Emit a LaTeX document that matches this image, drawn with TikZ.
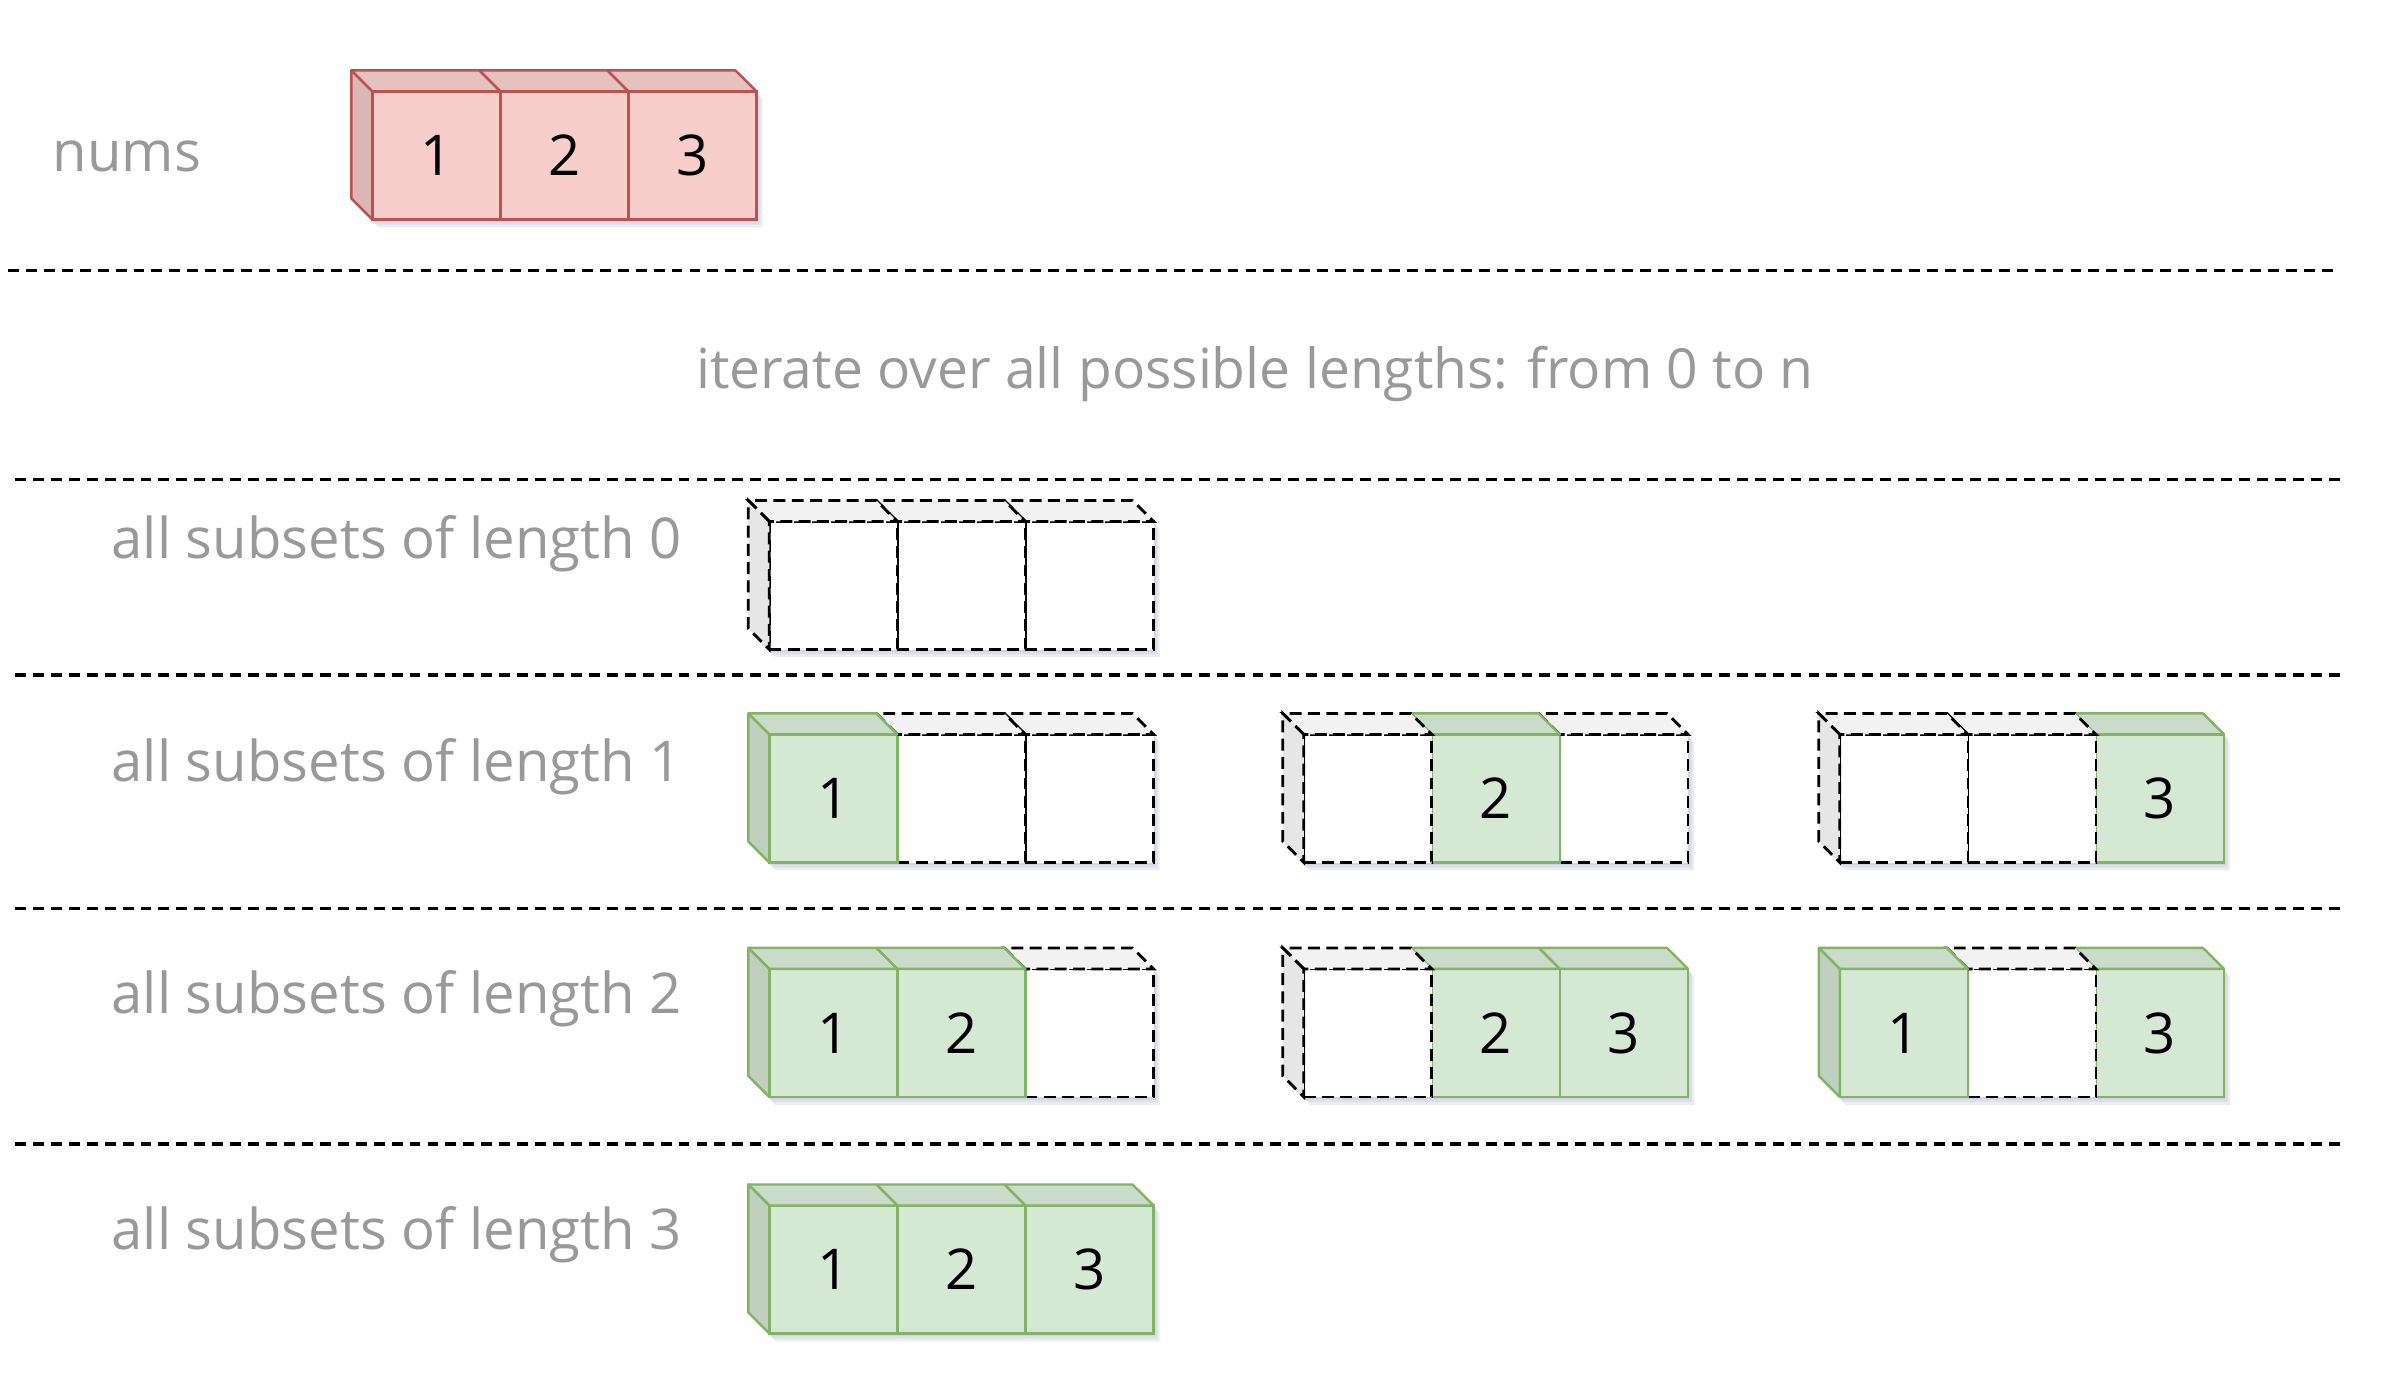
\documentclass[tikz,border=0pt]{standalone}
\usepackage{fontspec}
\setmainfont{Open Sans}
\usetikzlibrary{positioning}

\definecolor{numsfill}{HTML}{F8CECC}
\definecolor{numsline}{HTML}{B85450}
\definecolor{numstop}{RGB}{229,193,192}
\definecolor{numsside}{RGB}{218,182,181}
\definecolor{pickfill}{HTML}{D5E8D4}
\definecolor{pickline}{HTML}{82B366}
\definecolor{picktop}{RGB}{202,220,201}
\definecolor{pickside}{RGB}{192,207,190}
\definecolor{skiptop}{RGB}{242,242,242}
\definecolor{skipside}{RGB}{230,230,230}
\definecolor{labelgray}{RGB}{153,153,153}
\definecolor{shadowblue}{RGB}{170,175,200}

\begin{document}
\begin{tikzpicture}[x=0.01cm, y=-0.01cm,
  cell/.style={rectangle, minimum width=1.28cm, minimum height=1.28cm,
    inner sep=0pt, outer sep=0pt, font=\fontsize{16}{19}\selectfont},
  numcell/.style={cell, fill=numsfill, draw=numsline, line width=0.7pt},
  pickcell/.style={cell, fill=pickfill, draw=pickline, line width=0.7pt},
  skipcell/.style={cell, fill=white, draw=black, line width=0.8pt, dash pattern=on 3.4pt off 1.8pt},
  numtop/.style={fill=numstop, draw=numsline, line width=0.7pt, line join=round},
  numside/.style={fill=numsside, draw=numsline, line width=0.7pt, line join=round},
  picktop/.style={fill=picktop, draw=pickline, line width=0.7pt, line join=round},
  pickside/.style={fill=pickside, draw=pickline, line width=0.7pt, line join=round},
  skiptop/.style={fill=skiptop, draw=black, line width=0.8pt, dash pattern=on 3.4pt off 1.8pt},
  skipside/.style={fill=skipside, draw=black, line width=0.8pt, dash pattern=on 3.4pt off 1.8pt},
  rowtext/.style={anchor=base east, text=labelgray, font=\fontsize{16}{19}\selectfont},
  sepline/.style={line width=0.9pt, dash pattern=on 3.1pt off 2pt},
  boxshadow/.style={fill=shadowblue, opacity=0.22}]

\useasboundingbox (0,0) rectangle (2384,1378);

% Soft shadows under every strip
\foreach \x/\y in {372.5/91.5, 769.5/521.5, 769.5/734.5, 1304/734.5, 1840/734.5,
                   769.5/969, 1304/969, 1840/969, 769.5/1205.5}
  \foreach \d in {2,4,6}
    \fill[boxshadow] (\x-21+\d,\y-21+1.3*\d) -- ++(384,0) -- ++(21,21) -- ++(0,128)
      -- ++(-384,0) -- ++(-21,-21) -- cycle;

% Separators
\draw[sepline] (8,270.5) -- (2336,270.5);
\foreach \y in {479.5, 675, 908.5, 1144}
  \draw[sepline] (15,\y) -- (2341,\y);

% Texts
\node[rowtext, anchor=base] (numstext) at (127,171.7) {nums};
\node[rowtext, anchor=base, font=\fontsize{15.7}{19}\selectfont] (itertext) at (1255,388) {iterate over all possible lengths: from 0 to n};
\node[rowtext] (len0) at (694,558) {all subsets of length 0};
\node[rowtext] (len1) at (694,781) {all subsets of length 1};
\node[rowtext] (len2) at (694,1013) {all subsets of length 2};
\node[rowtext] (len3) at (694,1249) {all subsets of length 3};

% The input array
\node[numcell] (N3) at (692.5,155.5) {3};
\node[numcell, left=0pt of N3] (N2) {2};
\node[numcell, left=0pt of N2] (N1) {1};
\foreach \c in {N3,N2,N1}
  \filldraw[numtop] (\c.north west) -- ++(-21,-21) -- ++(128,0) -- (\c.north east) -- cycle;
\filldraw[numside] (N1.north west) -- ++(-21,-21) -- ++(0,128) -- (N1.south west) -- cycle;

% Length 0
\node[skipcell] (Z3) at (1089.5,585.5) {};
\node[skipcell, left=0pt of Z3] (Z2) {};
\node[skipcell, left=0pt of Z2] (Z1) {};
\foreach \c in {Z3,Z2,Z1}
  \filldraw[skiptop] (\c.north west) -- ++(-21,-21) -- ++(128,0) -- (\c.north east) -- cycle;
\filldraw[skipside] (Z1.north west) -- ++(-21,-21) -- ++(0,128) -- (Z1.south west) -- cycle;

% Length 1
\node[skipcell] (A3) at (1089.5,798.5) {};
\node[skipcell, left=0pt of A3] (A2) {};
\node[pickcell, left=0pt of A2] (A1) {1};
\foreach \c/\s in {A3/skiptop, A2/skiptop, A1/picktop}
  \filldraw[\s] (\c.north west) -- ++(-21,-21) -- ++(128,0) -- (\c.north east) -- cycle;
\filldraw[pickside] (A1.north west) -- ++(-21,-21) -- ++(0,128) -- (A1.south west) -- cycle;

\node[skipcell] (B3) at (1624,798.5) {};
\node[pickcell, left=0pt of B3] (B2) {2};
\node[skipcell, left=0pt of B2] (B1) {};
\foreach \c/\s in {B3/skiptop, B2/picktop, B1/skiptop}
  \filldraw[\s] (\c.north west) -- ++(-21,-21) -- ++(128,0) -- (\c.north east) -- cycle;
\filldraw[skipside] (B1.north west) -- ++(-21,-21) -- ++(0,128) -- (B1.south west) -- cycle;

\node[pickcell] (C3) at (2160,798.5) {3};
\node[skipcell, left=0pt of C3] (C2) {};
\node[skipcell, left=0pt of C2] (C1) {};
\foreach \c/\s in {C3/picktop, C2/skiptop, C1/skiptop}
  \filldraw[\s] (\c.north west) -- ++(-21,-21) -- ++(128,0) -- (\c.north east) -- cycle;
\filldraw[skipside] (C1.north west) -- ++(-21,-21) -- ++(0,128) -- (C1.south west) -- cycle;

% Length 2
\node[skipcell] (D3) at (1089.5,1033) {};
\node[pickcell, left=0pt of D3] (D2) {2};
\node[pickcell, left=0pt of D2] (D1) {1};
\foreach \c/\s in {D3/skiptop, D2/picktop, D1/picktop}
  \filldraw[\s] (\c.north west) -- ++(-21,-21) -- ++(128,0) -- (\c.north east) -- cycle;
\filldraw[pickside] (D1.north west) -- ++(-21,-21) -- ++(0,128) -- (D1.south west) -- cycle;

\node[pickcell] (E3) at (1624,1033) {3};
\node[pickcell, left=0pt of E3] (E2) {2};
\node[skipcell, left=0pt of E2] (E1) {};
\foreach \c/\s in {E3/picktop, E2/picktop, E1/skiptop}
  \filldraw[\s] (\c.north west) -- ++(-21,-21) -- ++(128,0) -- (\c.north east) -- cycle;
\filldraw[skipside] (E1.north west) -- ++(-21,-21) -- ++(0,128) -- (E1.south west) -- cycle;

\node[pickcell] (F3) at (2160,1033) {3};
\node[skipcell, left=0pt of F3] (F2) {};
\node[pickcell, left=0pt of F2] (F1) {1};
\foreach \c/\s in {F3/picktop, F2/skiptop, F1/picktop}
  \filldraw[\s] (\c.north west) -- ++(-21,-21) -- ++(128,0) -- (\c.north east) -- cycle;
\filldraw[pickside] (F1.north west) -- ++(-21,-21) -- ++(0,128) -- (F1.south west) -- cycle;

% Length 3
\node[pickcell] (G3) at (1089.5,1269.5) {3};
\node[pickcell, left=0pt of G3] (G2) {2};
\node[pickcell, left=0pt of G2] (G1) {1};
\foreach \c in {G3,G2,G1}
  \filldraw[picktop] (\c.north west) -- ++(-21,-21) -- ++(128,0) -- (\c.north east) -- cycle;
\filldraw[pickside] (G1.north west) -- ++(-21,-21) -- ++(0,128) -- (G1.south west) -- cycle;
\end{tikzpicture}
\end{document}
